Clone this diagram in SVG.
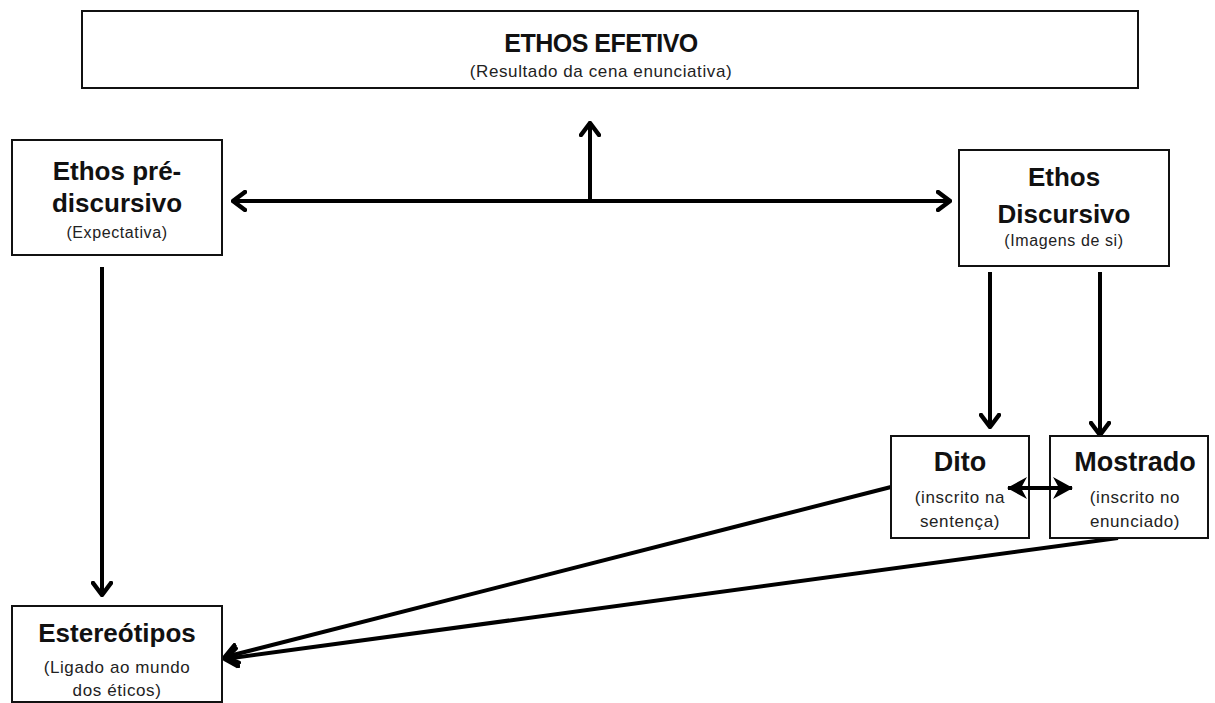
<svg xmlns="http://www.w3.org/2000/svg" width="1215" height="703" viewBox="0 0 1215 703">
<defs>
<style>
.box{fill:#fff;stroke:#111;stroke-width:2}
.t{font-family:"Liberation Sans",Arial,sans-serif;font-weight:bold;fill:#111;text-anchor:middle}
.s{font-family:"Liberation Sans",Arial,sans-serif;fill:#222;text-anchor:middle;letter-spacing:0.6px}
.ln{stroke:#000;stroke-width:4;fill:none}
</style>
<marker id="chev" viewBox="0 0 16 22" refX="14" refY="11" markerWidth="16" markerHeight="22" markerUnits="userSpaceOnUse" orient="auto-start-reverse">
<path d="M2,2 L14,11 L2,20" fill="none" stroke="#000" stroke-width="4.5" stroke-linecap="round" stroke-linejoin="round"/>
</marker>
<marker id="tri" viewBox="0 0 20 24" refX="19" refY="12" markerWidth="20" markerHeight="24" markerUnits="userSpaceOnUse" orient="auto-start-reverse">
<path d="M0,1 L20,12 L0,23 L6,12 Z" fill="#000"/>
</marker>
</defs>
<rect width="1215" height="703" fill="#fff"/>

<g id="connectors">
<line class="ln" x1="233" y1="201" x2="950" y2="201" marker-start="url(#chev)" marker-end="url(#chev)"/>
<line class="ln" x1="590" y1="201" x2="590" y2="123" marker-end="url(#chev)"/>
<line class="ln" x1="102" y1="267" x2="102" y2="595" marker-end="url(#chev)"/>
<line class="ln" x1="990" y1="272" x2="990" y2="427" marker-end="url(#chev)"/>
<line class="ln" x1="1100" y1="272" x2="1100" y2="435" marker-end="url(#chev)"/>
<line class="ln" x1="891" y1="487" x2="225" y2="657" marker-end="url(#chev)"/>
<line class="ln" x1="1118" y1="538" x2="225" y2="659" marker-end="url(#chev)"/>
</g>

<g id="node-ethos-efetivo">
<rect class="box" x="82" y="11" width="1056" height="77"/>
<text class="t" x="601" y="52" font-size="25" letter-spacing="-0.5">ETHOS EFETIVO</text>
<text class="s" x="601" y="77" font-size="17">(Resultado da cena enunciativa)</text>
</g>

<g id="node-ethos-pre">
<rect class="box" x="12" y="140" width="210" height="115"/>
<text class="t" x="117" y="180" font-size="26">Ethos pré-</text>
<text class="t" x="117" y="212" font-size="26">discursivo</text>
<text class="s" x="117" y="238" font-size="16">(Expectativa)</text>
</g>

<g id="node-ethos-discursivo">
<rect class="box" x="959" y="150" width="210" height="116"/>
<text class="t" x="1064" y="186" font-size="26">Ethos</text>
<text class="t" x="1064" y="223" font-size="26">Discursivo</text>
<text class="s" x="1064" y="246" font-size="16">(Imagens de si)</text>
</g>

<g id="node-dito">
<rect class="box" x="891" y="436" width="138" height="102"/>
<text class="t" x="960" y="471" font-size="27">Dito</text>
<text class="s" x="960" y="503" font-size="17">(inscrito na</text>
<text class="s" x="960" y="527" font-size="17">sentença)</text>
</g>

<g id="node-mostrado">
<rect class="box" x="1050" y="436" width="158" height="102"/>
<text class="t" x="1135" y="471" font-size="27">Mostrado</text>
<text class="s" x="1135" y="503" font-size="17">(inscrito no</text>
<text class="s" x="1135" y="527" font-size="17">enunciado)</text>
</g>

<g id="dito-mostrado-link">
<line class="ln" x1="1008" y1="488" x2="1072" y2="488" marker-start="url(#tri)" marker-end="url(#tri)"/>
</g>

<g id="node-estereotipos">
<rect class="box" x="12" y="606" width="210" height="96"/>
<text class="t" x="117" y="642" font-size="26">Estereótipos</text>
<text class="s" x="117" y="673" font-size="17">(Ligado ao mundo</text>
<text class="s" x="117" y="696" font-size="17">dos éticos)</text>
</g>
</svg>
